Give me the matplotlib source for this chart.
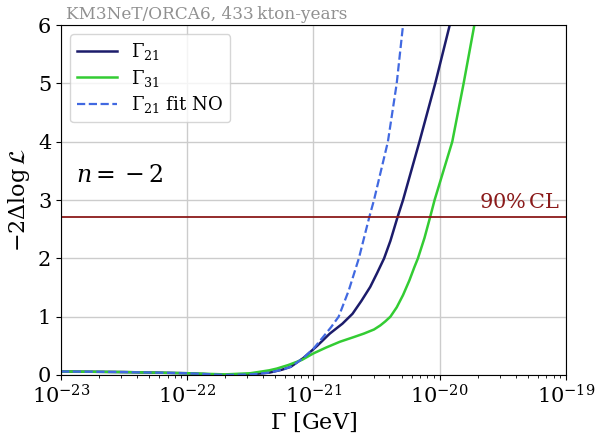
import numpy as np
import matplotlib
matplotlib.use("Agg")
import matplotlib.pyplot as plt

plt.rcParams['font.family'] = ['DejaVu Serif']
plt.rcParams['mathtext.fontset'] = 'dejavuserif'

# Data (log10 of Gamma in GeV, -2 Delta log L)
g21_logx = [-23.0, -22.5, -22.0, -21.7, -21.5, -21.35, -21.25, -21.18, -21.08, -20.97,
            -20.87, -20.77, -20.69, -20.62, -20.55, -20.495, -20.44, -20.39, -20.333, -20.29,
            -20.16, -20.035, -19.92]
g21_y = [0.06, 0.05, 0.03, 0.0, 0.01, 0.04, 0.09, 0.14, 0.29, 0.5,
         0.71, 0.88, 1.05, 1.27, 1.51, 1.75, 2.0, 2.3, 2.71, 3.0,
         4.0, 5.0, 6.0]

g31_logx = [-23.0, -22.5, -22.0, -21.7, -21.5, -21.35, -21.29, -21.2, -21.09, -21.0, -20.9,
            -20.79, -20.68, -20.6, -20.52, -20.47, -20.43, -20.39, -20.34, -20.29, -20.24,
            -20.2, -20.172, -20.12, -20.075, -20.04, -19.9, -19.81, -19.725]
g31_y = [0.06, 0.05, 0.03, 0.01, 0.03, 0.08, 0.11, 0.17, 0.26, 0.37, 0.47,
         0.57, 0.65, 0.71, 0.78, 0.85, 0.92, 1.0, 1.16, 1.37, 1.62,
         1.85, 2.0, 2.35, 2.71, 3.0, 4.0, 5.0, 6.0]

no_logx = [-23.0, -22.5, -22.0, -21.7, -21.5, -21.35, -21.25, -21.18, -21.08, -21.0,
           -20.92, -20.86, -20.8, -20.72, -20.64, -20.557, -20.52, -20.41, -20.34, -20.29]
no_y = [0.06, 0.05, 0.03, 0.0, 0.01, 0.04, 0.09, 0.14, 0.29, 0.45,
        0.66, 0.82, 1.0, 1.45, 2.0, 2.71, 3.0, 4.0, 5.0, 6.0]

cl90 = 2.71

fig = plt.figure(figsize=(5.95, 4.33), dpi=100)
ax = fig.add_axes([0.1025, 0.134, 0.8485, 0.808])

ax.plot(10**np.array(g21_logx), g21_y, color='#1c1c6b', lw=1.8, label=r'$\Gamma_{21}$')
ax.plot(10**np.array(g31_logx), g31_y, color='#33cc33', lw=1.8, label=r'$\Gamma_{31}$')
ax.plot(10**np.array(no_logx), no_y, color='#4169e1', lw=1.6, ls='--', label=r'$\Gamma_{21}$ fit NO')
ax.axhline(cl90, color='#8b1a1a', lw=1.3)

ax.set_xscale('log')
ax.set_xlim(1e-23, 1e-19)
ax.set_ylim(0, 6)
ax.grid(True, which='major', color='#cccccc', lw=1.0)
ax.tick_params(labelsize=15)
ax.set_xlabel(r'$\Gamma$ [GeV]', fontsize=16, labelpad=2)
ax.set_ylabel(r'$-2\Delta\log\mathcal{L}$', fontsize=16)

ax.text(0.905e-19, cl90 + 0.08, r'90%$\,$CL', color='#8b1a1a', fontsize=15,
        ha='right', va='bottom')
ax.text(0.03, 0.57, r'$n = {}-2$', transform=ax.transAxes, fontsize=17, va='center')
ax.text(0.01, 1.005, 'KM3NeT/ORCA6, 433\u2009kton-years', transform=ax.transAxes,
        fontsize=12.2, color='#909090', ha='left', va='bottom')

leg = ax.legend(loc='upper left', fontsize=13, framealpha=0.8, handlelength=2.2,
                labelspacing=0.3)

fig.savefig('out.png', dpi=100)
